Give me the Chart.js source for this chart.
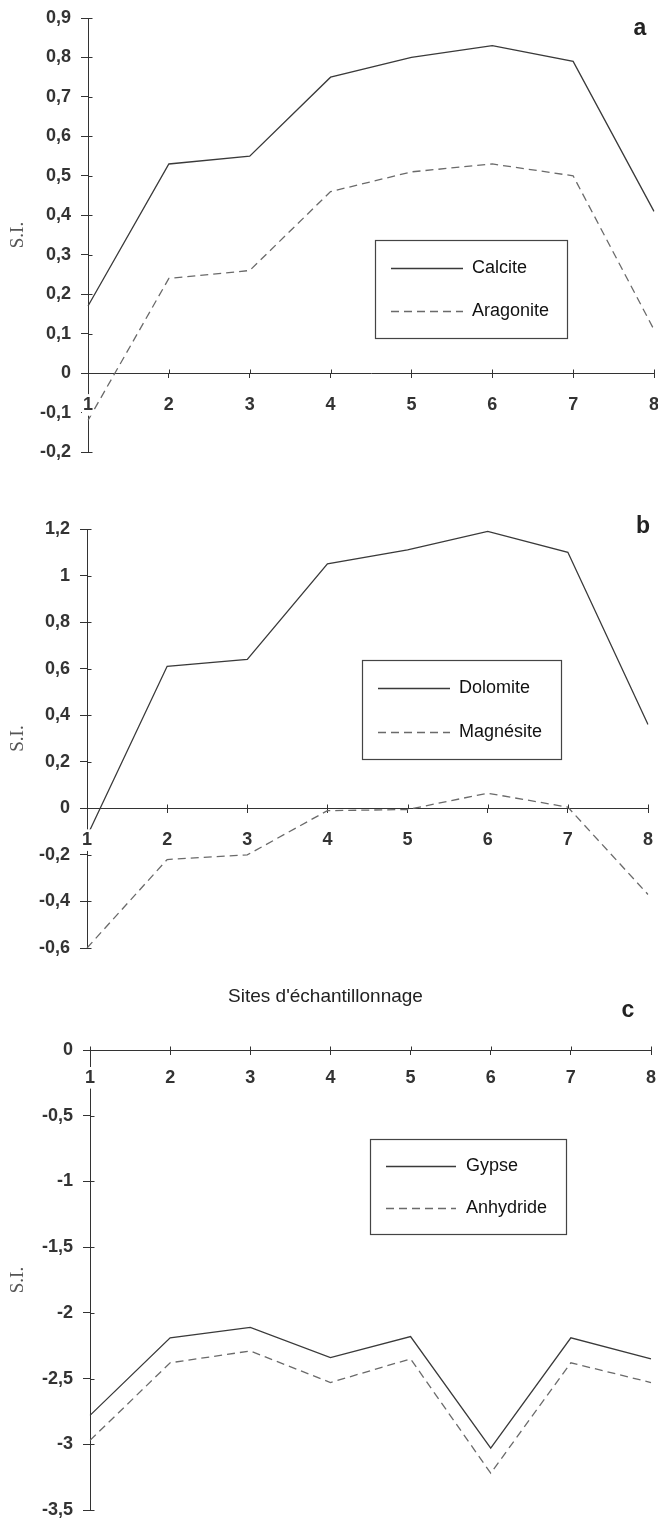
<!DOCTYPE html>
<html><head><meta charset="utf-8">
<script src="https://cdn.jsdelivr.net/npm/chart.js@4"></script>
<style>
html,body{margin:0;padding:0;background:#fff;}
#wrap{position:relative;width:658px;height:1522px;background:#fff;}
canvas{position:absolute;left:0;}
</style></head><body>
<div id="wrap">
<canvas id="ca" width="658" height="470" style="top:0px"></canvas>
<canvas id="cb" width="658" height="490" style="top:470px"></canvas>
<canvas id="cc" width="658" height="562" style="top:960px"></canvas>
</div>
<script>
// ---- data ----
const sites = ['1','2','3','4','5','6','7','8'];
const calcite   = [0.17, 0.53, 0.55, 0.75, 0.80, 0.83, 0.79, 0.41];
const aragonite = [-0.12, 0.24, 0.26, 0.46, 0.51, 0.53, 0.50, 0.11];
const dolomite  = [-0.12, 0.61, 0.64, 1.05, 1.11, 1.19, 1.10, 0.36];
const magnesite = [-0.60, -0.22, -0.20, -0.01, -0.005, 0.065, 0.005, -0.37];
const gypse     = [-2.78, -2.19, -2.11, -2.34, -2.18, -3.03, -2.19, -2.35];
const anhydride = [-2.97, -2.38, -2.29, -2.53, -2.35, -3.22, -2.38, -2.53];
const yTicksA = [-0.2, -0.1, 0, 0.1, 0.2, 0.3, 0.4, 0.5, 0.6, 0.7, 0.8, 0.9];
const yTicksB = [-0.6, -0.4, -0.2, 0, 0.2, 0.4, 0.6, 0.8, 1, 1.2];
const yTicksC = [-3.5, -3, -2.5, -2, -1.5, -1, -0.5, 0];
const yTitle = 'S.I.';
const xTitle = "Sites d'échantillonnage";

// ---- styles ----
const AXIS = '#333';
const SOLID = '#3a3a3a';
const DASHED = '#6a6a6a';
const SANS = "'Liberation Sans', Arial, sans-serif";
const fmt = v => String(v).replace('.', ',');

const boxLegend = {
  id: 'boxLegend',
  afterDraw(chart, args, o) {
    if (!o || o.left === undefined) return;
    const ctx = chart.ctx;
    ctx.save();
    ctx.fillStyle = '#fff';
    ctx.fillRect(o.left, o.top, o.right - o.left, o.bottom - o.top);
    ctx.strokeStyle = '#444';
    ctx.lineWidth = 1.2;
    ctx.strokeRect(o.left + 0.5, o.top + 0.5, o.right - o.left, o.bottom - o.top);
    chart.data.datasets.forEach((ds, i) => {
      const y = o.rows[i] + 0.5;
      ctx.beginPath();
      ctx.setLineDash(ds.borderDash || []);
      ctx.strokeStyle = ds.borderColor;
      ctx.lineWidth = ds.borderWidth;
      ctx.moveTo(o.lineX1, y);
      ctx.lineTo(o.lineX2, y);
      ctx.stroke();
      ctx.setLineDash([]);
      ctx.fillStyle = '#111';
      ctx.font = '18px ' + SANS;
      ctx.textBaseline = 'middle';
      ctx.textAlign = 'left';
      ctx.fillText(ds.label, o.textX, o.rows[i]);
    });
    ctx.restore();
  }
};

const panelLetter = {
  id: 'panelLetter',
  afterDraw(chart, args, o) {
    if (!o || !o.text) return;
    const ctx = chart.ctx;
    ctx.save();
    ctx.fillStyle = '#222';
    ctx.font = 'bold 23px ' + SANS;
    ctx.textAlign = 'center';
    ctx.textBaseline = 'alphabetic';
    ctx.fillText(o.text, o.x, o.y);
    ctx.restore();
  }
};

const tickStubs = {
  id: 'tickStubs',
  afterDatasetsDraw(chart) {
    const {ctx, scales: {x, y}} = chart;
    ctx.save();
    ctx.strokeStyle = AXIS;
    ctx.lineWidth = 1;
    const ax = Math.round(chart.chartArea.left) + 0.5;
    const ay = Math.round(y.getPixelForValue(0)) + 0.5;
    ctx.beginPath();
    y.ticks.forEach(t => {
      const py = Math.round(y.getPixelForValue(t.value)) + 0.5;
      ctx.moveTo(ax, py); ctx.lineTo(ax + 4, py);
    });
    x.ticks.forEach((t, i) => {
      const px = Math.round(x.getPixelForTick(i)) + 0.5;
      ctx.moveTo(px, ay); ctx.lineTo(px, ay - 4);
    });
    ctx.stroke();
    ctx.restore();
  }
};

function makeChart(id, c) {
  return new Chart(document.getElementById(id), {
    type: 'line',
    data: {
      labels: sites,
      datasets: c.series.map(s => ({
        label: s.label, data: s.data,
        borderColor: s.dashed ? DASHED : SOLID,
        borderWidth: 1.3,
        borderDash: s.dashed ? [8, 5] : [],
        pointRadius: 0, pointHoverRadius: 0, tension: 0, fill: false
      }))
    },
    options: {
      responsive: false,
      animation: false,
      events: [],
      layout: { padding: c.padding },
      plugins: {
        legend: { display: false },
        tooltip: { enabled: false },
        title: c.title || { display: false },
        boxLegend: c.legendBox,
        panelLetter: c.letter
      },
      scales: {
        x: {
          type: 'category', offset: false, position: { y: 0 },
          grid: { drawOnChartArea: false, drawTicks: true, tickLength: 4, color: AXIS, lineWidth: 1 },
          border: { display: true, color: AXIS, width: 1 },
          ticks: {
            font: { family: SANS, size: 18, weight: 'bold' }, color: '#333', padding: c.xPad,
            maxRotation: 0, autoSkip: false, z: 1,
            showLabelBackdrop: true, backdropColor: '#fff',
            backdropPadding: { top: 0, bottom: 0, left: 1, right: 1 }
          },
          afterFit(s) { s.paddingLeft = 0; s.paddingRight = 0; s.paddingTop = 0; s.paddingBottom = 0; }
        },
        y: {
          type: 'linear', position: 'left', min: c.yTicks[0], max: c.yTicks[c.yTicks.length - 1],
          afterBuildTicks(s) { s.ticks = c.yTicks.map(v => ({ value: v })); },
          afterFit(s) { s.width = c.yWidth; s.paddingTop = 0; s.paddingBottom = 0; },
          grid: { drawOnChartArea: false, drawTicks: true, tickLength: 7, color: AXIS, lineWidth: 1 },
          border: { display: true, color: AXIS, width: 1 },
          ticks: { callback: v => fmt(v), padding: 10, font: { family: SANS, size: 18, weight: 'bold' }, color: '#333' },
          title: {
            display: true, text: yTitle, color: '#555',
            font: { family: "'Liberation Serif', 'Times New Roman', serif", size: 19 },
            padding: { top: 7, bottom: 0 }
          }
        }
      }
    },
    plugins: [tickStubs, boxLegend, panelLetter]
  });
}

makeChart('ca', {
  series: [{ label: 'Calcite', data: calcite }, { label: 'Aragonite', data: aragonite, dashed: true }],
  yTicks: yTicksA, yWidth: 88, xPad: 17,
  padding: { top: 18, bottom: 18, right: 4, left: 0 },
  legendBox: { left: 375, top: 240, right: 567, bottom: 338, lineX1: 391, lineX2: 463, textX: 472, rows: [268, 311] },
  letter: { text: 'a', x: 640, y: 35 }
});

makeChart('cb', {
  series: [{ label: 'Dolomite', data: dolomite }, { label: 'Magnésite', data: magnesite, dashed: true }],
  yTicks: yTicksB, yWidth: 87, xPad: 17,
  padding: { top: 59, bottom: 12, right: 10, left: 0 },
  legendBox: { left: 362, top: 190, right: 561, bottom: 289, lineX1: 378, lineX2: 450, textX: 459, rows: [218, 262] },
  letter: { text: 'b', x: 643, y: 63 }
});

makeChart('cc', {
  series: [{ label: 'Gypse', data: gypse }, { label: 'Anhydride', data: anhydride, dashed: true }],
  yTicks: yTicksC, yWidth: 90, xPad: 13,
  padding: { top: 0, bottom: 12, right: 7, left: 0 },
  title: {
    display: true, text: xTitle, color: '#222',
    font: { family: SANS, size: 19, weight: 'normal' },
    padding: { top: 25.6, bottom: 41.6 }
  },
  legendBox: { left: 370, top: 179, right: 566, bottom: 274, lineX1: 386, lineX2: 456, textX: 466, rows: [206, 248] },
  letter: { text: 'c', x: 628, y: 57 }
});
</script>
</body></html>
